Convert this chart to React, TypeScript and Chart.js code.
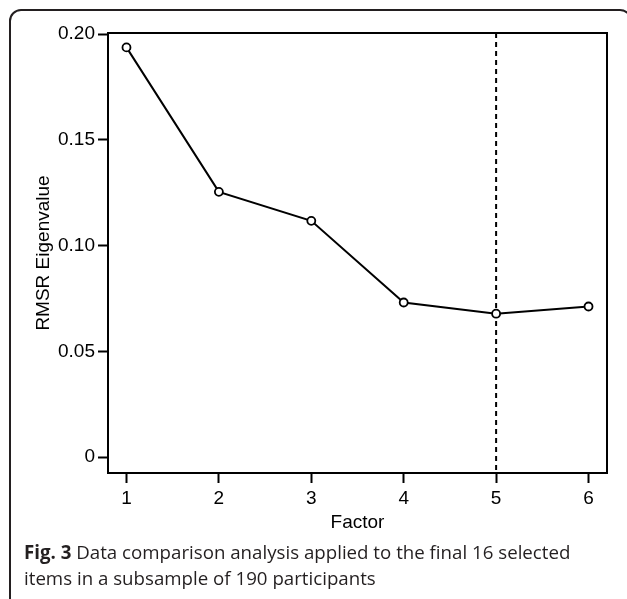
import React, { useEffect, useRef } from "react";
import { Chart, registerables } from "chart.js";

Chart.register(...registerables);

// ---- data ----
const factors = [1, 2, 3, 4, 5, 6];
const rmsrValues = [0.1937, 0.1254, 0.1117, 0.0731, 0.0678, 0.0712];
const xTicks = [1, 2, 3, 4, 5, 6];
const yTicks = [0, 0.05, 0.1, 0.15, 0.2];
const yTickLabels = ["0", "0.05", "0.10", "0.15", "0.20"];
const cutoffFactor = 5;
const xTitle = "Factor";
const yTitle = "RMSR Eigenvalue";
const captionBold = "Fig. 3";
const captionLine1 = " Data comparison analysis applied to the final 16 selected";
const captionLine2 = "items in a subsample of 190 participants";

const X_MIN = 0.8;
const X_MAX = 6.2;
const Y_MIN = -0.0075;
const Y_MAX = 0.2005;

const AXIS_FONT = "'Liberation Sans', Arial, Helvetica, sans-serif";
const AXIS_SIZE = 19;

const framePlugin = {
  id: "frameAndCutoff",
  beforeDatasetsDraw(chart: any) {
    const { ctx, chartArea, scales } = chart;
    ctx.save();
    const x = scales.x.getPixelForValue(cutoffFactor);
    ctx.strokeStyle = "#000";
    ctx.lineWidth = 2;
    ctx.setLineDash([5, 4]);
    ctx.beginPath();
    ctx.moveTo(x, chartArea.top);
    ctx.lineTo(x, chartArea.bottom);
    ctx.stroke();
    ctx.setLineDash([]);
    ctx.strokeRect(chartArea.left, chartArea.top, chartArea.right - chartArea.left, chartArea.bottom - chartArea.top);
    ctx.restore();
  },
};

export default function App() {
  const ref = useRef<HTMLCanvasElement | null>(null);

  useEffect(() => {
    if (!ref.current) return;
    const chart = new Chart(ref.current, {
      type: "line",
      data: {
        datasets: [
          {
            data: factors.map((f, i) => ({ x: f, y: rmsrValues[i] })),
            borderColor: "#000",
            borderWidth: 2,
            pointRadius: 4,
            pointBorderWidth: 1.8,
            pointBackgroundColor: "#fff",
            pointBorderColor: "#000",
            tension: 0,
            fill: false,
          },
        ],
      },
      options: {
        animation: false,
        responsive: false,
        devicePixelRatio: 1,
        events: [],
        layout: { padding: { left: 0, right: 20, top: 33, bottom: 0 } },
        plugins: { legend: { display: false }, tooltip: { enabled: false } },
        scales: {
          x: {
            type: "linear",
            min: X_MIN,
            max: X_MAX,
            afterBuildTicks: (scale: any) => {
              scale.ticks = xTicks.map((v) => ({ value: v }));
            },
            afterFit: (scale: any) => {
              scale.height = 67;
            },
            grid: {
              display: true,
              drawOnChartArea: false,
              drawTicks: true,
              tickLength: 10,
              tickWidth: 2,
              tickColor: "#000",
            },
            border: { display: true, width: 2, color: "#000" },
            ticks: {
              color: "#000",
              font: { family: AXIS_FONT, size: AXIS_SIZE },
              padding: 4,
              maxRotation: 0,
              autoSkip: false,
              callback: (v: any) => String(v),
            },
            title: {
              display: true,
              text: xTitle,
              color: "#000",
              font: { family: AXIS_FONT, size: AXIS_SIZE, lineHeight: 1.2 },
              padding: { top: 0, bottom: 6 },
            },
          },
          y: {
            type: "linear",
            min: Y_MIN,
            max: Y_MAX,
            afterBuildTicks: (scale: any) => {
              scale.ticks = yTicks.map((v) => ({ value: v }));
            },
            afterFit: (scale: any) => {
              scale.width = 108;
            },
            grid: {
              display: true,
              drawOnChartArea: false,
              drawTicks: true,
              tickLength: 10,
              tickWidth: 2,
              tickColor: "#000",
            },
            border: { display: true, width: 2, color: "#000" },
            ticks: {
              color: "#000",
              font: { family: AXIS_FONT, size: AXIS_SIZE },
              padding: 3,
              autoSkip: false,
              callback: (v: any) => {
                const i = yTicks.findIndex((t) => Math.abs(t - v) < 1e-9);
                return i >= 0 ? yTickLabels[i] : "";
              },
            },
            title: {
              display: true,
              text: yTitle,
              color: "#000",
              font: { family: AXIS_FONT, size: AXIS_SIZE, lineHeight: 1.2 },
              padding: { top: 32, bottom: 0 },
            },
          },
        },
      },
      plugins: [framePlugin],
    } as any);
    return () => chart.destroy();
  }, []);

  return (
    <div
      style={{
        position: "fixed",
        left: 0,
        top: 0,
        width: 627,
        height: 599,
        overflow: "hidden",
        background: "#fff",
      }}
    >
      <div
        style={{
          position: "absolute",
          left: 9,
          top: 9,
          width: 623,
          height: 700,
          boxSizing: "border-box",
          border: "2px solid #231f20",
          borderRadius: 12,
        }}
      />
      <canvas
        ref={ref}
        width={627}
        height={540}
        style={{ position: "absolute", left: 0, top: 0, width: 627, height: 540 }}
      />
      <div
        style={{
          position: "absolute",
          left: 24,
          top: 539,
          fontFamily: "'Open Sans', sans-serif",
          fontSize: 18.7,
          lineHeight: "26px",
          color: "#231f20",
          whiteSpace: "nowrap",
        }}
      >
        <div>
          <b style={{ fontWeight: 700 }}>{captionBold}</b>
          {captionLine1}
        </div>
        <div>{captionLine2}</div>
      </div>
    </div>
  );
}
